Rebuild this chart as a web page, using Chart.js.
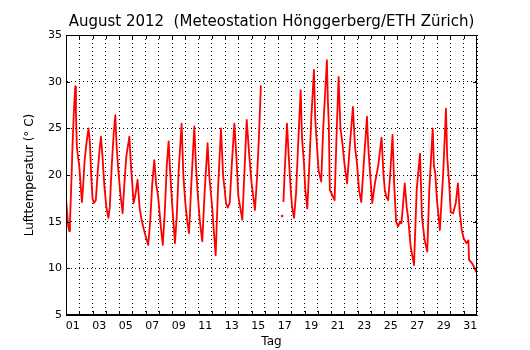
<!DOCTYPE html>
<html lang="de">
<head>
<meta charset="utf-8">
<title>August 2012 Hönggerberg</title>
<script src="https://cdn.jsdelivr.net/npm/chart.js@4.4.1/dist/chart.umd.min.js"></script>
<style>
    html, body { margin: 0; padding: 0; background: #fff; }
    #chart-box { width: 530px; height: 350px; }
</style>
</head>
<body>
<div id="chart-box"><canvas id="temp-chart" width="530" height="350"></canvas></div>
<script>
// --- 1. Daten ---

// Zeit in Tagen ab 1. August 00:00, null = Messluecke
const tage = [
    0.00, 0.08, 0.17, 0.25, 0.30, 0.40, 0.50, 0.60, 0.70, 0.75, 0.82, 0.90,
    1.00, 1.10, 1.20, 1.28, 1.40, 1.55, 1.70, 1.80, 1.90,
    2.00, 2.10, 2.25, 2.40, 2.55, 2.64, 2.75, 2.90,
    3.05, 3.20, 3.30, 3.45, 3.60, 3.72, 3.82, 3.95,
    4.10, 4.27, 4.40, 4.55, 4.78, 4.90,
    5.10, 5.25, 5.40, 5.55, 5.70, 5.85,
    6.00, 6.20, 6.35, 6.50, 6.66, 6.80, 6.95,
    7.15, 7.30, 7.45, 7.60, 7.74, 7.85,
    8.00, 8.22, 8.35, 8.50, 8.72, 8.85,
    9.00, 9.15, 9.28, 9.45, 9.68, 9.80, 9.95,
    10.10, 10.28, 10.45, 10.68, 10.80,
    11.00, 11.15, 11.29, 11.45, 11.69, 11.85,
    12.07, 12.20, 12.35, 12.50, 12.70, 12.85,
    13.00, 13.30, 13.45, 13.63, 13.80,
    14.00, 14.25, 14.40, 14.55, 14.70,
    15.50,
    16.30, 16.35,
    16.40, 16.50, 16.67, 16.80, 16.95,
    17.05, 17.20, 17.35, 17.50, 17.70, 17.80, 17.95,
    18.05, 18.20, 18.35, 18.50, 18.70, 18.80, 18.90,
    19.05, 19.25, 19.40, 19.68, 19.75, 19.82, 19.90,
    20.10, 20.26, 20.40, 20.56, 20.70, 20.85,
    21.00, 21.20, 21.40, 21.64, 21.80, 21.95,
    22.10, 22.27, 22.45, 22.70, 22.80, 22.90,
    23.10, 23.30, 23.55, 23.80, 23.95,
    24.05, 24.15, 24.30, 24.45, 24.63, 24.75, 24.90,
    25.05, 25.20, 25.30, 25.55, 25.70, 25.80,
    26.00, 26.25, 26.45, 26.70, 26.85,
    27.05, 27.25, 27.40, 27.66, 27.75, 27.85, 27.98,
    28.20, 28.45, 28.66, 28.75, 28.90,
    29.02, 29.20, 29.40, 29.56, 29.70, 29.85,
    30.00, 30.20, 30.35, 30.40, 30.65, 30.95
];

// Lufttemperatur in Grad C
const temperatur = [
    17.5, 16.0, 14.5, 14.0, 15.0, 19.0, 23.5, 27.0, 29.5, 26.5, 23.0, 22.0,
    21.0, 19.0, 17.1, 18.5, 21.5, 23.5, 25.0, 23.5, 20.0,
    17.5, 17.0, 17.3, 20.5, 23.0, 24.1, 22.0, 18.7,
    16.5, 15.4, 16.5, 21.0, 24.5, 26.4, 23.0, 20.5,
    18.0, 15.9, 19.0, 22.0, 24.1, 21.0,
    17.0, 18.0, 19.5, 16.5, 15.2, 14.3,
    13.5, 12.5, 15.0, 19.0, 21.6, 19.0, 17.7,
    14.5, 12.5, 16.0, 21.0, 23.6, 20.5,
    17.0, 12.7, 15.5, 20.5, 25.5, 20.0,
    17.0, 15.0, 13.75, 19.0, 25.2, 21.0, 17.7,
    15.0, 12.9, 18.0, 23.4, 20.0,
    17.0, 14.0, 11.4, 18.0, 25.0, 20.0,
    17.0, 16.5, 17.0, 21.0, 25.5, 22.0,
    17.7, 15.2, 20.0, 25.9, 22.5,
    19.1, 16.25, 19.5, 24.0, 29.6,
    null,
    15.6, null,
    17.1, 20.5, 25.5, 22.0, 18.4,
    16.6, 15.4, 18.0, 23.0, 29.1, 24.0, 21.25,
    18.4, 16.4, 21.0, 26.0, 31.25, 26.0, 23.75,
    20.5, 19.3, 25.0, 32.3, 28.0, 25.5, 18.4,
    17.8, 17.3, 24.0, 30.5, 25.0, 23.4,
    21.25, 19.1, 23.0, 27.3, 23.0, 21.25,
    18.4, 17.1, 21.0, 26.25, 23.0, 20.9,
    17.0, 19.1, 21.0, 24.0, 20.0,
    18.4, 17.7, 17.3, 20.0, 24.3, 19.1, 15.0,
    14.5, 15.0, 14.8, 19.1, 16.5, 15.5,
    12.3, 10.35, 18.4, 22.3, 15.5,
    13.0, 11.8, 18.4, 25.0, 21.0, 20.2, 17.3,
    14.1, 20.2, 27.1, 22.0, 19.1,
    16.0, 15.9, 17.0, 19.1, 16.0, 14.1,
    13.2, 12.7, 13.0, 10.9, 10.5, 9.6
];

// Achsenbeschriftung
const tagLabels = [
    '01', '02', '03', '04', '05', '06', '07', '08', '09', '10',
    '11', '12', '13', '14', '15', '16', '17', '18', '19', '20',
    '21', '22', '23', '24', '25', '26', '27', '28', '29', '30', '31'
];
const tempTicks = [5, 10, 15, 20, 25, 30, 35];

const FONT = 'DejaVu Sans';

document.addEventListener('DOMContentLoaded', () => {

    // --- 2. Rahmen und innere Tickmarks (matplotlib-Stil) ---
    const rahmenPlugin = {
        id: 'rahmen',
        afterDatasetsDraw(chart) {
            const { ctx, chartArea: a, scales } = chart;
            const len = 4;
            ctx.save();
            ctx.strokeStyle = '#000';
            ctx.lineWidth = 1;
            ctx.beginPath();
            // Tagesgrenzen unten/oben
            for (let d = 1; d < tagLabels.length; d++) {
                const px = Math.round(scales.x.getPixelForValue(d)) + 0.5;
                ctx.moveTo(px, a.bottom);
                ctx.lineTo(px, a.bottom - len);
                ctx.moveTo(px, a.top);
                ctx.lineTo(px, a.top + len);
            }
            // Temperatur links/rechts
            tempTicks.slice(1, -1).forEach(t => {
                const py = Math.round(scales.y.getPixelForValue(t)) + 0.5;
                ctx.moveTo(a.left, py);
                ctx.lineTo(a.left + len, py);
                ctx.moveTo(a.right, py);
                ctx.lineTo(a.right - len, py);
            });
            ctx.stroke();
            ctx.strokeRect(Math.round(a.left) + 0.5, Math.round(a.top) + 0.5,
                Math.round(a.width) - 1, Math.round(a.height) - 1);
            ctx.restore();
        }
    };

    // --- 3. Chart ---
    const punkte = tage.map((t, i) => ({ x: t, y: temperatur[i] }));

    // einzelne Messwerte ohne Nachbarn als Punkt zeigen
    function einzelPunkt(c) {
        const i = c.dataIndex;
        if (temperatur[i] === null) return 0;
        const prev = i > 0 ? temperatur[i - 1] : null;
        const next = i < temperatur.length - 1 ? temperatur[i + 1] : null;
        return (prev === null && next === null) ? 1.2 : 0;
    }

    const ctx = document.getElementById('temp-chart').getContext('2d');
    new Chart(ctx, {
        type: 'line',
        data: {
            datasets: [{
                data: punkte,
                borderColor: '#ff0000',
                backgroundColor: '#ff0000',
                borderWidth: 1.8,
                borderJoinStyle: 'round',
                pointRadius: einzelPunkt,
                pointHoverRadius: 0,
                pointBorderWidth: 0,
                tension: 0,
                spanGaps: false,
                fill: false
            }]
        },
        options: {
            responsive: false,
            animation: false,
            devicePixelRatio: 1,
            layout: { padding: { top: 0, right: 53, bottom: 0, left: 0 } },
            plugins: {
                legend: { display: false },
                tooltip: { enabled: false },
                title: {
                    display: true,
                    fullSize: false,
                    text: 'August 2012  (Meteostation Hönggerberg/ETH Zürich)',
                    color: '#000',
                    font: { family: FONT, size: 15, weight: 'normal' },
                    padding: { top: 13, bottom: 4 }
                }
            },
            scales: {
                x: {
                    type: 'linear',
                    min: 0,
                    max: tagLabels.length,
                    afterBuildTicks: scale => {
                        scale.ticks = tagLabels.map((_, i) => ({ value: i + 0.5 }));
                    },
                    afterFit: scale => { scale.height = 35; },
                    ticks: {
                        autoSkip: false,
                        maxRotation: 0,
                        padding: 5,
                        color: '#000',
                        font: { family: FONT, size: 11 },
                        callback: (v, i) => (i % 2 === 0 ? tagLabels[i] : '')
                    },
                    grid: {
                        offset: true,
                        drawTicks: false,
                        color: '#000',
                        lineWidth: 1
                    },
                    border: { display: true, color: '#000', dash: [1, 3] },
                    title: {
                        display: true,
                        text: 'Tag',
                        color: '#000',
                        font: { family: FONT, size: 12 },
                        padding: { top: 0, bottom: 1 }
                    }
                },
                y: {
                    min: tempTicks[0],
                    max: tempTicks[tempTicks.length - 1],
                    afterBuildTicks: scale => {
                        scale.ticks = tempTicks.map(v => ({ value: v }));
                    },
                    afterFit: scale => { scale.width = 66; },
                    ticks: {
                        padding: 4,
                        color: '#000',
                        font: { family: FONT, size: 11 }
                    },
                    grid: {
                        drawTicks: false,
                        color: '#000',
                        lineWidth: 1
                    },
                    border: { display: true, color: '#000', dash: [1, 3] },
                    title: {
                        display: true,
                        text: 'Lufttemperatur (° C)',
                        color: '#000',
                        font: { family: FONT, size: 12 },
                        padding: { top: 23, bottom: 0 }
                    }
                }
            }
        },
        plugins: [rahmenPlugin]
    });
});
</script>
</body>
</html>
